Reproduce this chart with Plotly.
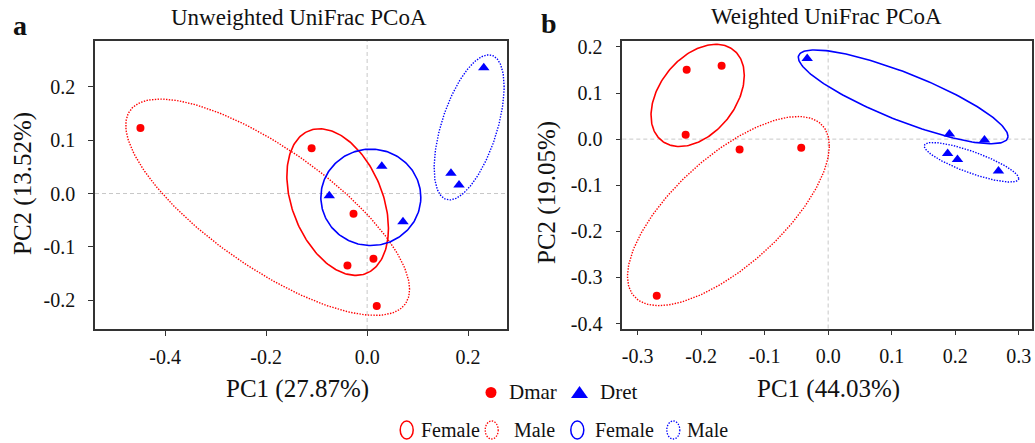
import numpy as np
import plotly.graph_objects as go

W, H = 1035, 443
FONT = "Liberation Serif"
RED = "#FF0000"
BLUE = "#0000FF"

# ---------------- data ----------------
# Panel a: Unweighted UniFrac PCoA
a_dmar_pc1 = [-0.449, -0.110, -0.027, -0.039, 0.0125, 0.019]
a_dmar_pc2 = [0.123, 0.085, -0.038, -0.135, -0.1225, -0.211]
a_dret_pc1 = [-0.075, 0.029, 0.071, 0.166, 0.182, 0.231]
a_dret_pc2 = [-0.004, 0.051, -0.053, 0.038, 0.016, 0.236]

# Panel b: Weighted UniFrac PCoA
b_dmar_pc1 = [-0.2227, -0.1677, -0.2243, -0.1394, -0.0424, -0.2698]
b_dmar_pc2 = [0.1506, 0.1593, 0.0093, -0.0225, -0.0188, -0.3398]
b_dret_pc1 = [-0.033, 0.1908, 0.246, 0.188, 0.2035, 0.268]
b_dret_pc2 = [0.175, 0.011, -0.002, -0.031, -0.044, -0.069]

# Ellipses (center x, center y, half-width, half-height, correlation) per group
ell_groups = ["Dmar Female", "Dmar Male", "Dret Female", "Dret Male"]
ell_colors = [RED, RED, BLUE, BLUE]
ell_dotted = [False, True, False, True]
a_ell_cx = [-0.0584, -0.197, 0.0073, 0.202]
a_ell_cy = [-0.016, -0.0257, -0.0071, 0.124]
a_ell_rx = [0.1006, 0.281, 0.099, 0.0693]
a_ell_ry = [0.1375, 0.2028, 0.0904, 0.136]
a_ell_rho = [-0.358, -0.758, 0.0, 0.56]
b_ell_cx = [-0.2054, -0.157, 0.118, 0.2255]
b_ell_cy = [0.0948, -0.156, 0.0916, -0.0502]
b_ell_rx = [0.0734, 0.1588, 0.165, 0.0744]
b_ell_ry = [0.1108, 0.205, 0.1017, 0.0429]
b_ell_rho = [0.39, 0.69, -0.84, -0.82]

# Axis ticks
a_xticks = [-0.4, -0.2, 0.0, 0.2]
a_xlabels = ["-0.4", "-0.2", "0.0", "0.2"]
a_yticks = [-0.2, -0.1, 0.0, 0.1, 0.2]
a_ylabels = ["-0.2", "-0.1", "0.0", "0.1", "0.2"]
b_xticks = [-0.3, -0.2, -0.1, 0.0, 0.1, 0.2, 0.3]
b_xlabels = ["-0.3", "-0.2", "-0.1", "0.0", "0.1", "0.2", "0.3"]
b_yticks = [-0.4, -0.3, -0.2, -0.1, 0.0, 0.1, 0.2]
b_ylabels = ["-0.4", "-0.3", "-0.2", "-0.1", "0.0", "0.1", "0.2"]

a_title = "Unweighted UniFrac PCoA"
b_title = "Weighted UniFrac PCoA"
a_xtitle, a_ytitle = "PC1 (27.87%)", "PC2 (13.52%)"
b_xtitle, b_ytitle = "PC1 (44.03%)", "PC2 (19.05%)"

# ---------------- figure ----------------
fig = go.Figure()


def px(x):
    return x / W


def py(y):
    return 1 - y / H


def ellipse(cx, cy, rx, ry, rho, n=200):
    t = np.linspace(0, 2 * np.pi, n)
    x = cx + rx * np.cos(t)
    y = cy + ry * (rho * np.cos(t) + np.sqrt(1 - rho ** 2) * np.sin(t))
    return x, y


for xa, ya, cxs, cys, rxs, rys, rhos in [
    ("x", "y", a_ell_cx, a_ell_cy, a_ell_rx, a_ell_ry, a_ell_rho),
    ("x2", "y2", b_ell_cx, b_ell_cy, b_ell_rx, b_ell_ry, b_ell_rho),
]:
    for i in range(len(ell_groups)):
        ex, ey = ellipse(cxs[i], cys[i], rxs[i], rys[i], rhos[i])
        fig.add_trace(go.Scatter(
            x=ex, y=ey, mode="lines", xaxis=xa, yaxis=ya, showlegend=False,
            hoverinfo="skip",
            line=dict(color=ell_colors[i], width=1.6 if not ell_dotted[i] else 1.4,
                      dash="1.4px,1.4px" if ell_dotted[i] else "solid"),
        ))

for xa, ya, dx, dy, tx, ty in [
    ("x", "y", a_dmar_pc1, a_dmar_pc2, a_dret_pc1, a_dret_pc2),
    ("x2", "y2", b_dmar_pc1, b_dmar_pc2, b_dret_pc1, b_dret_pc2),
]:
    fig.add_trace(go.Scatter(x=dx, y=dy, mode="markers", xaxis=xa, yaxis=ya,
                             showlegend=False, name="Dmar",
                             marker=dict(symbol="circle", size=8, color=RED)))
    fig.add_trace(go.Scatter(x=tx, y=ty, mode="markers", xaxis=xa, yaxis=ya,
                             showlegend=False, name="Dret",
                             marker=dict(symbol="triangle-up", size=10, color=BLUE)))

axis_common = dict(
    showgrid=False, zeroline=False, showline=True, mirror=True, automargin=False,
    linecolor="#333333", linewidth=1.6, ticks="outside", ticklen=5,
    tickwidth=1.2, tickcolor="#333333",
    tickfont=dict(family=FONT, size=20, color="#111111"),
)

fig.update_layout(
    width=W, height=H,
    margin=dict(l=0, r=0, t=0, b=0, autoexpand=False),
    paper_bgcolor="white", plot_bgcolor="white",
    showlegend=False,
    xaxis=dict(domain=[px(95), px(507)], range=[-0.539, 0.277],
               tickvals=a_xticks, ticktext=a_xlabels, anchor="y",
               ticklabelstandoff=4, **axis_common),
    yaxis=dict(domain=[py(329), py(41)], range=[-0.254, 0.286],
               tickvals=a_yticks, ticktext=a_ylabels, anchor="x",
               ticklabelstandoff=9, **axis_common),
    xaxis2=dict(domain=[px(622.3), px(1031.5)], range=[-0.324, 0.320],
                tickvals=b_xticks, ticktext=b_xlabels, anchor="y2",
                ticklabelstandoff=4, **axis_common),
    yaxis2=dict(domain=[py(328.5), py(40.7)], range=[-0.4106, 0.2134],
                tickvals=b_yticks, ticktext=b_ylabels, anchor="x2",
                ticklabelstandoff=9, **axis_common),
)

# dashed zero reference lines
shapes = []
for xr, yr in [("x", "y"), ("x2", "y2")]:
    shapes.append(dict(type="line", xref=xr, yref=yr + " domain", x0=0, x1=0, y0=0, y1=1,
                       line=dict(color="#C8C8C8", width=1, dash="4px,3px"), layer="below"))
    shapes.append(dict(type="line", xref=xr + " domain", yref=yr, x0=0, x1=1, y0=0, y1=0,
                       line=dict(color="#C8C8C8", width=1, dash="4px,3px"), layer="below"))

# legend row 1: markers
shapes.append(dict(type="circle", xref="paper", yref="paper",
                   xsizemode="pixel", ysizemode="pixel",
                   xanchor=px(491), yanchor=py(392.5),
                   x0=-5.5, x1=5.5, y0=-5.5, y1=5.5,
                   fillcolor=RED, line=dict(color=RED, width=0)))
shapes.append(dict(type="path", xref="paper", yref="paper",
                   xsizemode="pixel", ysizemode="pixel",
                   xanchor=px(579.5), yanchor=py(392.5),
                   path="M -8.5,-5.5 L 8.5,-5.5 L 0,6.5 Z",
                   fillcolor=BLUE, line=dict(color=BLUE, width=0)))

# legend row 2: ellipse icons
leg2_x = [406.7, 491.7, 577.3, 673.3]
for i, cxp in enumerate(leg2_x):
    shapes.append(dict(type="circle", xref="paper", yref="paper",
                       xsizemode="pixel", ysizemode="pixel",
                       xanchor=px(cxp), yanchor=py(430),
                       x0=-6.5, x1=6.5, y0=-9, y1=9,
                       line=dict(color=ell_colors[i], width=1.5 if not ell_dotted[i] else 1.3,
                                 dash="1.4px,1.4px" if ell_dotted[i] else "solid")))
fig.update_layout(shapes=shapes)

ann = []


def text(t, x, y, size, xanchor="center", bold=False, angle=0):
    ann.append(dict(text=("<b>%s</b>" % t) if bold else t, x=px(x), y=py(y),
                    xref="paper", yref="paper", showarrow=False,
                    xanchor=xanchor, yanchor="middle", textangle=angle,
                    font=dict(family=FONT, size=size, color="#111111")))


text("a", 19.5, 25, 28, bold=True)
text("b", 548.5, 23, 28, bold=True)
text(a_title, 298.5, 18, 23)
text(b_title, 826.7, 17, 23)
text(a_xtitle, 297, 389, 25)
text(b_xtitle, 828, 389, 25)
text(a_ytitle, 23, 184, 25, angle=-90)
text(b_ytitle, 547, 193, 25, angle=-90)
# legend texts
text("Dmar", 507, 392, 21, xanchor="left")
text("Dret", 598, 392, 21, xanchor="left")
leg2_labels = ["Female", "Male", "Female", "Male"]
leg2_tx = [419, 512, 593, 684.5]
for lab, tx in zip(leg2_labels, leg2_tx):
    text(lab, tx, 430, 20, xanchor="left")

fig.update_layout(annotations=ann)

fig.write_html(
    "out.html",
    config={"displayModeBar": False},
    post_script="document.body.style.margin='0';document.body.style.overflow='hidden';",
)
